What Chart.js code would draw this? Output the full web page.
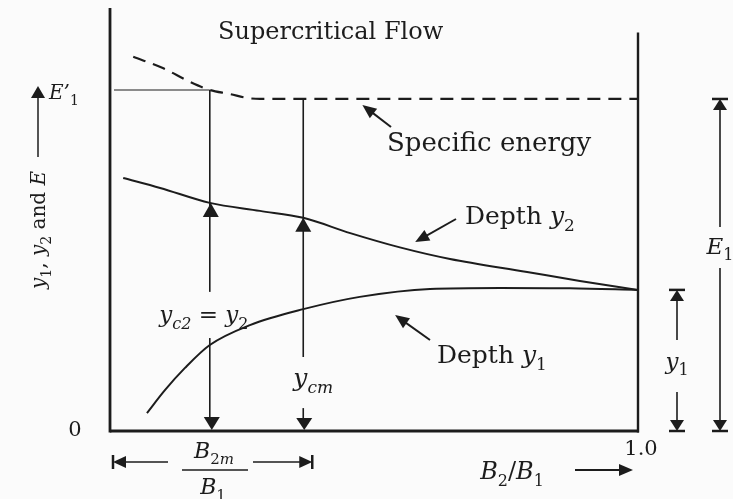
<!DOCTYPE html>
<html>
<head>
<meta charset="utf-8">
<script src="https://cdn.jsdelivr.net/npm/chart.js@4.4.1/dist/chart.umd.min.js"></script>
<style>
  html, body { margin: 0; padding: 0; background: #fbfbfb; }
  #wrap { width: 733px; height: 499px; }
</style>
</head>
<body>
<div id="wrap"><canvas id="flowChart"></canvas></div>
<script>
// Specific energy E against width ratio B2/B1 (dashed)
const energyRatio = [0.044, 0.100, 0.152, 0.189, 0.227, 0.260, 0.284, 1.0];
const energyValue = [1.127, 1.093, 1.051, 1.027, 1.015, 1.003, 1.000, 1.000];

// Depth y2 in the contracted section
const y2Ratio = [0.025, 0.095, 0.189, 0.284, 0.366, 0.455, 0.549, 0.644, 0.790, 0.890, 1.0];
const y2Depth = [0.762, 0.732, 0.687, 0.663, 0.642, 0.596, 0.553, 0.518, 0.479, 0.452, 0.425];

// Depth y1 upstream
const y1Ratio = [0.070, 0.104, 0.142, 0.189, 0.265, 0.366, 0.473, 0.606, 0.739, 0.871, 1.0];
const y1Depth = [0.054, 0.123, 0.190, 0.259, 0.319, 0.367, 0.404, 0.428, 0.431, 0.430, 0.425];

// B2/B1 where y_c2 = y2, and the limiting ratio B2m/B1
const markRatio = [0.189, 0.366];
const E1prime = 1.027;
const E1 = 1.0;
const xTickLabels = ['0', '1.0'];

const ink = '#1c1c1c';
const serif = '"DejaVu Serif", "Liberation Serif", serif';

function lerp(xs, ys, x) {
  for (let i = 1; i < xs.length; i++) {
    if (x <= xs[i]) {
      const t = (x - xs[i - 1]) / (xs[i] - xs[i - 1]);
      return ys[i - 1] + t * (ys[i] - ys[i - 1]);
    }
  }
  return ys[ys.length - 1];
}

// mixed roman / italic / subscript text, baseline at y
function rich(ctx, parts, x, y, size, align) {
  const fontOf = p => {
    const sub = p[1].includes('s');
    const it = p[1].includes('i');
    return (it ? 'italic ' : '') + Math.round(sub ? size * 0.68 : size) + 'px ' + serif;
  };
  let w = 0;
  parts.forEach(p => { ctx.font = fontOf(p); w += ctx.measureText(p[0]).width; });
  let cx = align === 'center' ? x - w / 2 : x;
  parts.forEach(p => {
    ctx.font = fontOf(p);
    const dy = p[1].includes('s') ? size * 0.28 : 0;
    ctx.fillText(p[0], cx, y + dy);
    cx += ctx.measureText(p[0]).width;
  });
  return w;
}

function head(ctx, x, y, angle, len, half) {
  ctx.save();
  ctx.translate(x, y);
  ctx.rotate(angle);
  ctx.beginPath();
  ctx.moveTo(0, 0);
  ctx.lineTo(-len, -half);
  ctx.lineTo(-len, half);
  ctx.closePath();
  ctx.fill();
  ctx.restore();
}

function seg(ctx, x0, y0, x1, y1, w) {
  ctx.lineWidth = w;
  ctx.beginPath();
  ctx.moveTo(x0, y0);
  ctx.lineTo(x1, y1);
  ctx.stroke();
}

// leader line from a label to a curve, arrowhead at the curve end
function leader(ctx, x0, y0, x1, y1) {
  const a = Math.atan2(y1 - y0, x1 - x0);
  seg(ctx, x0, y0, x1 - Math.cos(a) * 6, y1 - Math.sin(a) * 6, 2);
  head(ctx, x1, y1, a, 14, 6);
}

// dimension end: bar across the line with a triangle against it
function dimEnd(ctx, x, y, up) {
  seg(ctx, x - 8, y, x + 8, y, 2.5);
  head(ctx, x, y, up ? -Math.PI / 2 : Math.PI / 2, 11, 7);
}

const figurePlugin = {
  id: 'figure',
  beforeDatasetsDraw(chart) {
    const { ctx, chartArea, scales } = chart;
    const px = v => scales.x.getPixelForValue(v);
    const py = v => scales.y.getPixelForValue(v);
    ctx.save();
    ctx.strokeStyle = ink;
    // axes and the B2/B1 = 1 boundary
    seg(ctx, px(0), chartArea.top, px(0), py(0) + 1.5, 2.8);
    seg(ctx, px(0), py(0), px(1) + 1, py(0), 2.8);
    seg(ctx, px(1), py(0) + 1.5, px(1), py(1.2), 2.4);
    ctx.restore();
  },
  afterDatasetsDraw(chart) {
    const { ctx, chartArea, scales } = chart;
    const px = v => scales.x.getPixelForValue(v);
    const py = v => scales.y.getPixelForValue(v);
    ctx.save();
    ctx.strokeStyle = ink;
    ctx.fillStyle = ink;
    ctx.textBaseline = 'alphabetic';
    ctx.textAlign = 'left';

    // E'1 level
    seg(ctx, px(0) + 4, py(E1prime), px(markRatio[0]), py(E1prime), 1.2);

    // vertical at y_c2 = y2
    const xa = px(markRatio[0]);
    seg(ctx, xa, py(E1prime), xa, py(0.419), 1.6);
    head(ctx, xa + 1, py(lerp(y2Ratio, y2Depth, markRatio[0])), -Math.PI / 2, 14, 8);
    seg(ctx, xa, py(0.280), xa, py(0) - 8, 1.6);
    head(ctx, xa + 2, py(0) - 1, Math.PI / 2, 13, 8);
    rich(ctx, [['y', 'i'], ['c2', 'si'], [' = ', 'r'], ['y', 'i'], ['2', 's']], xa - 6, py(0.328), 23, 'center');

    // vertical at B2m/B1
    const xb = px(markRatio[1]);
    seg(ctx, xb, py(E1), xb, py(0.223), 1.6);
    head(ctx, xb, py(lerp(y2Ratio, y2Depth, markRatio[1])), -Math.PI / 2, 14, 8);
    seg(ctx, xb, py(0.069), xb, py(0) - 8, 1.6);
    head(ctx, xb + 1, py(0) - 1, Math.PI / 2, 12, 8);
    rich(ctx, [['y', 'i'], ['cm', 'si']], xb + 10, py(0.135), 25, 'center');

    // curve labels
    rich(ctx, [['Supercritical Flow', 'r']], 218, 39, 23.5);
    rich(ctx, [['Specific energy', 'r']], 387, 151, 25.5);
    leader(ctx, 391, 127, px(0.478), py(0.982));
    rich(ctx, [['Depth ', 'r'], ['y', 'i'], ['2', 's']], 465, 224, 25);
    leader(ctx, 456, 219, px(0.578), py(0.569));
    rich(ctx, [['Depth ', 'r'], ['y', 'i'], ['1', 's']], 437, 363, 25);
    leader(ctx, 430, 340, px(0.540), py(0.349));

    // y axis label with its arrow
    const xl = 38;
    head(ctx, xl, 86, -Math.PI / 2, 12, 7);
    seg(ctx, xl, 96, xl, 157, 1.5);
    rich(ctx, [['E\u2019', 'i'], ['1', 's']], 49, 99, 20);
    ctx.save();
    ctx.translate(45, 230);
    ctx.rotate(-Math.PI / 2);
    rich(ctx, [['y', 'i'], ['1', 's'], [', ', 'r'], ['y', 'i'], ['2', 's'], [' and ', 'r'], ['E', 'i']], 0, 0, 20, 'center');
    ctx.restore();

    // tick labels
    rich(ctx, [[xTickLabels[0], 'r']], 75, py(0) + 5, 21, 'center');
    rich(ctx, [[xTickLabels[1], 'r']], px(1) + 3, py(0) + 24, 21, 'center');

    // x axis label and arrow
    rich(ctx, [['B', 'i'], ['2', 's'], ['/', 'r'], ['B', 'i'], ['1', 's']], 512, 479, 24, 'center');
    seg(ctx, 575, 470, 622, 470, 1.8);
    head(ctx, 633, 470, 0, 14, 6);

    // B2m/B1 width dimension
    const yd = 462;
    const xr = xb + 9;
    seg(ctx, px(0) + 3, yd - 7, px(0) + 3, yd + 7, 2.5);
    head(ctx, px(0) + 3, yd, Math.PI, 13, 6);
    seg(ctx, px(0) + 14, yd, 168, yd, 1.6);
    seg(ctx, 253, yd, xr - 10, yd, 1.6);
    head(ctx, xr, yd, 0, 13, 6);
    seg(ctx, xr, yd - 7, xr, yd + 7, 2.5);
    rich(ctx, [['B', 'i'], ['2', 's'], ['m', 'si']], 214, 458, 22, 'center');
    seg(ctx, 182, 470, 248, 470, 1.3);
    rich(ctx, [['B', 'i'], ['1', 's']], 213, 494, 22, 'center');

    // E1 dimension on the right
    const xe = chartArea.right + 82;
    dimEnd(ctx, xe, py(E1), true);
    seg(ctx, xe, py(E1) + 8, xe, 227, 1.6);
    rich(ctx, [['E', 'i'], ['1', 's']], xe, 254, 23, 'center');
    seg(ctx, xe, 268, xe, py(0) - 8, 1.6);
    dimEnd(ctx, xe, py(0), false);

    // y1 dimension
    const xy = chartArea.right + 39;
    const yEnd = y1Depth[y1Depth.length - 1];
    dimEnd(ctx, xy, py(yEnd), true);
    seg(ctx, xy, py(yEnd) + 8, xy, 340, 1.6);
    rich(ctx, [['y', 'i'], ['1', 's']], xy, 369, 23, 'center');
    seg(ctx, xy, 392, xy, py(0) - 8, 1.6);
    dimEnd(ctx, xy, py(0), false);

    ctx.restore();
  }
};

const ctx = document.getElementById('flowChart').getContext('2d');
new Chart(ctx, {
  type: 'line',
  data: {
    datasets: [
      {
        label: 'Specific energy',
        data: energyRatio.map((x, i) => ({ x, y: energyValue[i] })),
        borderColor: ink,
        borderWidth: 2.2,
        borderDash: [13, 8],
        cubicInterpolationMode: 'monotone'
      },
      {
        label: 'Depth y2',
        data: y2Ratio.map((x, i) => ({ x, y: y2Depth[i] })),
        borderColor: ink,
        borderWidth: 2,
        cubicInterpolationMode: 'monotone'
      },
      {
        label: 'Depth y1',
        data: y1Ratio.map((x, i) => ({ x, y: y1Depth[i] })),
        borderColor: ink,
        borderWidth: 2,
        cubicInterpolationMode: 'monotone'
      }
    ]
  },
  options: {
    responsive: true,
    maintainAspectRatio: false,
    animation: false,
    layout: { padding: { left: 110, right: 95, top: 8, bottom: 68 } },
    elements: { point: { radius: 0 } },
    plugins: {
      legend: { display: false },
      tooltip: { enabled: false }
    },
    scales: {
      x: { type: 'linear', min: 0, max: 1, display: false },
      y: { type: 'linear', min: 0, max: 1.274, display: false }
    }
  },
  plugins: [figurePlugin]
});
</script>
</body>
</html>
